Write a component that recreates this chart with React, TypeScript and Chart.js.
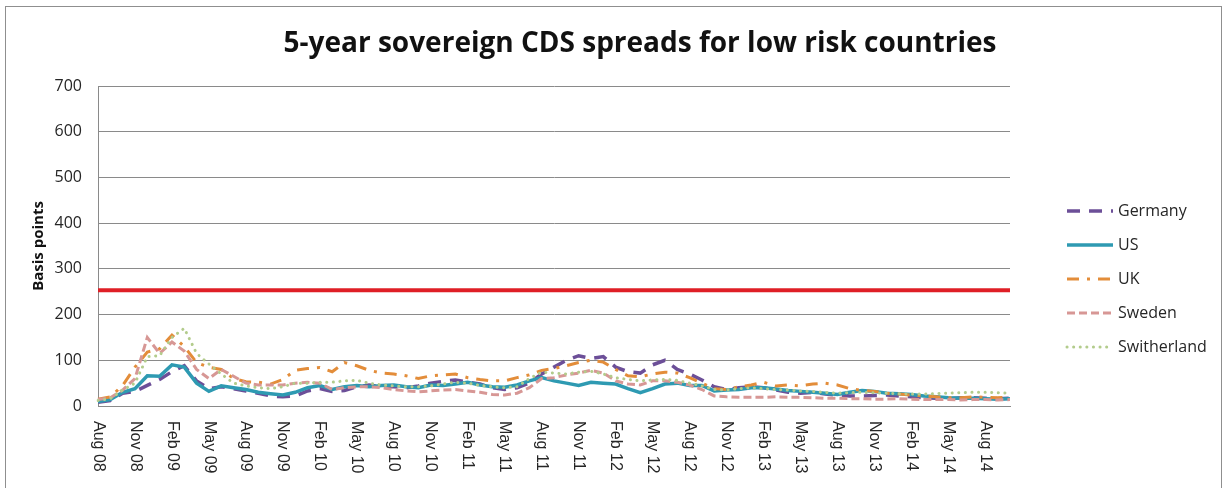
import { useEffect, useRef } from "react";
import { Chart, registerables } from "chart.js";

Chart.register(...registerables);

// Monthly observations, Aug 2008 – Oct 2014
const categories = [
  "Aug 08", "Sep 08", "Oct 08", "Nov 08", "Dec 08",
  "Jan 09", "Feb 09", "Mar 09", "Apr 09", "May 09", "Jun 09", "Jul 09", "Aug 09", "Sep 09", "Oct 09", "Nov 09", "Dec 09",
  "Jan 10", "Feb 10", "Mar 10", "Apr 10", "May 10", "Jun 10", "Jul 10", "Aug 10", "Sep 10", "Oct 10", "Nov 10", "Dec 10",
  "Jan 11", "Feb 11", "Mar 11", "Apr 11", "May 11", "Jun 11", "Jul 11", "Aug 11", "Sep 11", "Oct 11", "Nov 11", "Dec 11",
  "Jan 12", "Feb 12", "Mar 12", "Apr 12", "May 12", "Jun 12", "Jul 12", "Aug 12", "Sep 12", "Oct 12", "Nov 12", "Dec 12",
  "Jan 13", "Feb 13", "Mar 13", "Apr 13", "May 13", "Jun 13", "Jul 13", "Aug 13", "Sep 13", "Oct 13", "Nov 13", "Dec 13",
  "Jan 14", "Feb 14", "Mar 14", "Apr 14", "May 14", "Jun 14", "Jul 14", "Aug 14", "Sep 14", "Oct 14",
];

// 5-year CDS spreads, basis points
const germany = [
  8, 12, 28, 32, 45, 58, 75, 88, 55, 38, 42, 38, 33, 28, 22, 20, 22,
  33, 38, 32, 34, 42, 46, 42, 42, 40, 44, 50, 54,
  57, 52, 48, 40, 36, 40, 50, 70, 85, 100, 110, 104,
  108, 85, 75, 72, 90, 100, 80, 70, 57, 42, 36, 40,
  42, 40, 35, 30, 28, 30, 26, 24, 22, 22, 23, 24,
  22, 20, 18, 17, 16, 18, 18, 17, 16, 17,
];
const us = [
  10, 14, 30, 38, 66, 65, 90, 85, 50, 32, 44, 40, 36, 30, 27, 24, 30,
  40, 45, 36, 42, 45, 42, 45, 46, 42, 40, 46, 45,
  48, 52, 46, 42, 41, 46, 55, 62, 55, 50, 45, 52,
  50, 48, 38, 29, 38, 48, 50, 45, 45, 33, 35, 36,
  40, 40, 37, 34, 32, 30, 28, 25, 30, 34, 32, 28,
  27, 25, 22, 20, 18, 17, 17, 16, 15, 16,
];
const uk = [
  15, 20, 45, 85, 118, 125, 155, 130, 95, 85, 80, 60, 53, 52, 48, 58, 78,
  82, 84, 75, 95, 88, 78, 72, 70, 66, 60, 66, 68,
  70, 62, 58, 55, 55, 62, 68, 78, 82, 88, 95, 100,
  96, 80, 66, 64, 70, 74, 72, 62, 50, 38, 36, 42,
  46, 52, 44, 46, 44, 48, 50, 46, 38, 34, 32, 28,
  26, 24, 22, 20, 18, 18, 20, 19, 18, 20,
];
const sweden = [
  14, 18, 35, 60, 150, 115, 140, 120, 80, 60, 80, 65, 50, 46, 46, 46, 50,
  52, 50, 36, 40, 42, 42, 40, 36, 33, 31, 33, 35,
  36, 33, 30, 25, 24, 28, 40, 60, 62, 68, 72, 78,
  72, 55, 48, 46, 55, 55, 52, 46, 36, 22, 20, 19,
  19, 19, 20, 19, 19, 18, 17, 17, 16, 16, 15, 15,
  16, 15, 14, 14, 14, 13, 14, 14, 13, 14,
];
const switzerland = [
  12, 16, 35, 50, 108, 110, 150, 170, 115, 92, 70, 50, 44, 40, 38, 42, 50,
  50, 52, 52, 55, 56, 50, 46, 44, 42, 42, 44, 48,
  52, 50, 45, 42, 40, 42, 60, 74, 72, 70, 74, 76,
  70, 62, 58, 55, 57, 58, 56, 50, 44, 36, 35, 38,
  40, 38, 36, 35, 33, 32, 30, 28, 29, 30, 29, 28,
  27, 26, 26, 27, 28, 29, 30, 30, 29, 28,
];

// Reference level drawn as a horizontal line
const THRESHOLD = 253;

const TITLE = "5-year sovereign CDS spreads for low risk countries";
const Y_TITLE = "Basis points";
const Y_MIN = 0;
const Y_MAX = 700;
const Y_STEP = 100;
const LABEL_EVERY = 3;

const series = [
  { label: "Germany", values: germany, color: "#6C4F98", dash: [13, 9], width: 3.5, cap: "butt" },
  { label: "US", values: us, color: "#2E9AB2", dash: [], width: 3.5, cap: "butt" },
  { label: "UK", values: uk, color: "#E38D3A", dash: [12, 8, 3, 8], width: 3, cap: "butt" },
  { label: "Sweden", values: sweden, color: "#D79795", dash: [8, 4], width: 3, cap: "butt" },
  { label: "Switherland", values: switzerland, color: "#B3CC8C", dash: [0.1, 6.5], width: 3, cap: "round" },
];

const FONT = '"Open Sans", "Noto Sans", sans-serif';
const TEXT = "#262626";
const GRID = "#8a8a8a";

const framePlugin = {
  id: "frame",
  beforeDraw(chart: any) {
    const { ctx } = chart;
    ctx.save();
    ctx.strokeStyle = "#8f8f8f";
    ctx.lineWidth = 1;
    ctx.strokeRect(5.5, 6.5, 1216, 600);
    ctx.restore();
  },
};

const titlePlugin = {
  id: "chartTitle",
  afterDraw(chart: any) {
    const { ctx } = chart;
    ctx.save();
    ctx.font = `bold 28px ${FONT}`;
    ctx.fillStyle = "#111";
    ctx.textAlign = "center";
    ctx.textBaseline = "middle";
    ctx.fillText(TITLE, 640, 44);
    ctx.restore();
  },
};

// Month labels read top-to-bottom under the axis
const xLabelPlugin = {
  id: "xLabels",
  afterDraw(chart: any) {
    const { ctx, chartArea } = chart;
    const xs = chart.scales.x;
    ctx.save();
    ctx.font = '16px "Liberation Sans", Arial, sans-serif';
    ctx.fillStyle = TEXT;
    ctx.textAlign = "left";
    ctx.textBaseline = "middle";
    for (let i = 0; i < categories.length; i += LABEL_EVERY) {
      const x = xs.getPixelForValue(i);
      ctx.save();
      ctx.translate(x, chartArea.bottom + 15);
      ctx.rotate(Math.PI / 2);
      ctx.fillText(categories[i], 0, 0);
      ctx.restore();
    }
    ctx.restore();
  },
};

const legendPlugin = {
  id: "sideLegend",
  afterDraw(chart: any) {
    const { ctx, chartArea } = chart;
    const x0 = chartArea.right + 57;
    const lineLen = 46;
    let y = 211;
    ctx.save();
    ctx.font = `16px ${FONT}`;
    ctx.fillStyle = TEXT;
    ctx.textBaseline = "middle";
    chart.data.datasets.forEach((ds: any) => {
      if (ds.isReference) return;
      ctx.save();
      ctx.strokeStyle = ds.borderColor;
      ctx.lineWidth = ds.borderWidth;
      ctx.setLineDash(ds.borderDash || []);
      ctx.lineCap = ds.borderCapStyle || "butt";
      ctx.beginPath();
      ctx.moveTo(x0, y);
      ctx.lineTo(x0 + lineLen, y);
      ctx.stroke();
      ctx.restore();
      ctx.fillText(ds.label, x0 + lineLen + 5, y);
      y += 34;
    });
    ctx.restore();
  },
};

export default function App() {
  const canvasRef = useRef<HTMLCanvasElement | null>(null);

  useEffect(() => {
    if (!canvasRef.current) return;
    const datasets: any[] = series.map((s, i) => ({
      label: s.label,
      data: s.values,
      borderColor: s.color,
      backgroundColor: s.color,
      borderWidth: s.width,
      borderDash: s.dash,
      borderCapStyle: s.cap,
      pointRadius: 0,
      tension: 0,
      fill: false,
      order: series.length - i,
    }));
    datasets.push({
      label: "Threshold",
      isReference: true,
      data: categories.map(() => THRESHOLD),
      borderColor: "#DF1F26",
      borderWidth: 4,
      pointRadius: 0,
      fill: false,
      order: series.length + 1,
    });

    const chart = new Chart(canvasRef.current, {
      type: "line",
      data: { labels: categories, datasets },
      options: {
        animation: false,
        responsive: false,
        devicePixelRatio: 1,
        layout: { padding: { top: 86, right: 214, bottom: 0, left: 0 } },
        plugins: { legend: { display: false }, tooltip: { enabled: false }, title: { display: false } },
        scales: {
          x: {
            type: "category",
            offset: false,
            grid: { display: false },
            border: { display: true, color: GRID, width: 1 },
            ticks: { display: false },
            afterFit(scale: any) {
              scale.height = 82;
            },
          },
          y: {
            min: Y_MIN,
            max: Y_MAX,
            ticks: {
              stepSize: Y_STEP,
              padding: 16,
              color: TEXT,
              font: { family: FONT, size: 16 },
            },
            grid: { color: GRID, lineWidth: 1, drawTicks: false },
            border: { display: true, color: GRID, width: 1 },
            title: {
              display: true,
              text: Y_TITLE,
              color: "#111",
              font: { family: FONT, size: 15, weight: "bold" },
              padding: { top: 30, bottom: 0 },
            },
            afterFit(scale: any) {
              scale.width = 98;
            },
          },
        },
      },
      plugins: [framePlugin, titlePlugin, xLabelPlugin, legendPlugin],
    } as any);

    return () => chart.destroy();
  }, []);

  return (
    <div style={{ position: "fixed", left: 0, top: 0, width: 1224, height: 488, background: "#fff" }}>
      <canvas ref={canvasRef} width={1224} height={488} style={{ display: "block" }} />
    </div>
  );
}
